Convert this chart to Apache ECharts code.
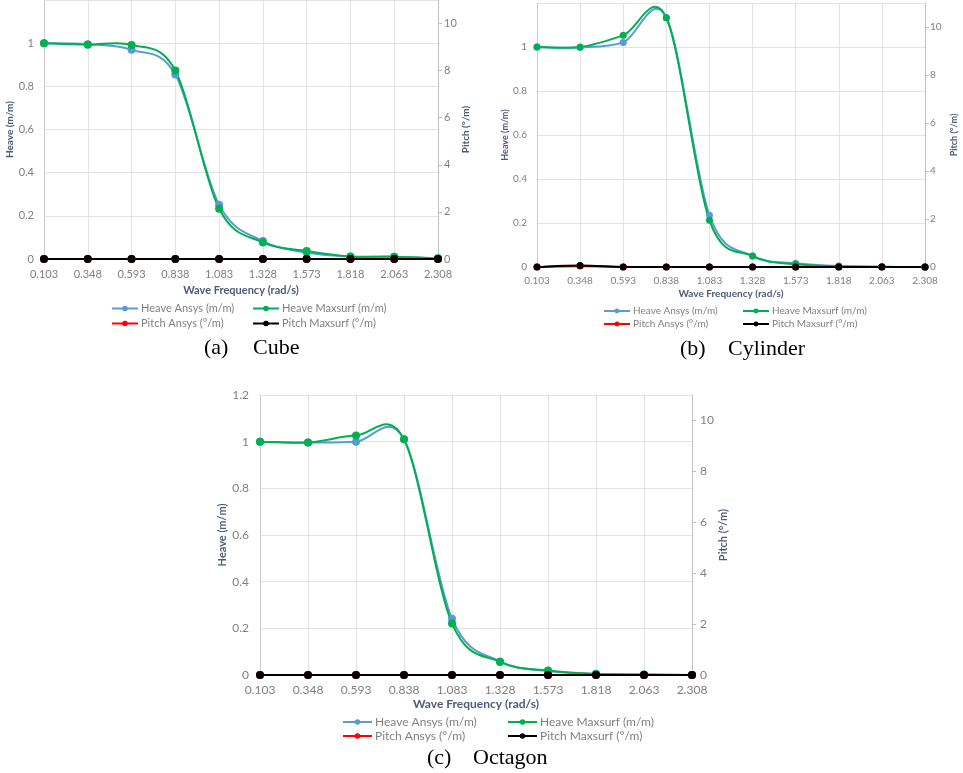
<!DOCTYPE html>
<html>
<head>
<meta charset="utf-8">
<script src="https://cdn.jsdelivr.net/npm/echarts@6/dist/echarts.min.js"></script>
<style>
  html, body { margin: 0; padding: 0; background: #fff; }
  #main { width: 963px; height: 773px; }
</style>
</head>
<body>
<div id="main"></div>
<script>
// wave frequency (rad/s), shared by all three panels
const frequencies = ['0.103', '0.348', '0.593', '0.838', '1.083', '1.328', '1.573', '1.818', '2.063', '2.308'];

// (a) Cube
const cubeHeaveAnsys = [1, 0.995, 0.969, 0.855, 0.251, 0.083, 0.030, 0.011, 0.010, 0.002];
const cubeHeaveMaxsurf = [1, 0.993, 0.992, 0.873, 0.233, 0.077, 0.037, 0.012, 0.011, 0.003];
const cubePitchAnsys = [0, 0, 0, 0, 0, 0, 0, 0, 0, 0];
const cubePitchMaxsurf = [0, 0, 0, 0, 0, 0, 0, 0, 0, 0];

// (b) Cylinder
const cylHeaveAnsys = [1, 0.998, 1.021, 1.133, 0.235, 0.050, 0.017, 0.004, 0.001, 0];
const cylHeaveMaxsurf = [1, 1.0, 1.053, 1.133, 0.212, 0.050, 0.012, 0.003, 0.001, 0];
const cylPitchAnsys = [0, 0.04, 0, 0, 0, 0, 0, 0, 0, 0];
const cylPitchMaxsurf = [0, 0.06, 0, 0, 0, 0, 0, 0, 0, 0];

// (c) Octagon
const octHeaveAnsys = [1, 0.996, 1.0, 1.01, 0.241, 0.058, 0.017, 0.005, 0.002, 0];
const octHeaveMaxsurf = [1, 0.996, 1.026, 1.01, 0.221, 0.056, 0.019, 0.004, 0.002, 0];
const octPitchAnsys = [0, 0, 0, 0, 0, 0, 0, 0, 0, 0];
const octPitchMaxsurf = [0, 0, 0, 0, 0, 0, 0, 0, 0, 0];

// axis ranges / ticks
const heaveMax = 1.2;
const heaveStep = 0.2;
const pitchMax = 11;
const pitchStep = 2;

const seriesNames = ['Heave Ansys (m/m)', 'Heave Maxsurf (m/m)', 'Pitch Ansys (°/m)', 'Pitch Maxsurf (°/m)'];
const seriesColors = ['#5b9bd5', '#00b050', '#ff0000', '#000000'];

const FONT = 'Lato';
const labelColor = '#7f7f7f';
const nameColor = '#4d5b78';

/**
 * 每个小图的位置和字号
 */
const panels = [{
  caption: ['(a)', 'Cube'],
  data: [cubeHeaveAnsys, cubeHeaveMaxsurf, cubePitchAnsys, cubePitchMaxsurf],
  grid: { left: 44, top: -2, width: 394, height: 261 },
  font: 11, symbol: 8, showTop: false,
  leftGap: 25, rightGap: 21, xGap: 26, xMargin: 10, leftMargin: 10, rightMargin: 6,
  legendX: [111, 252], legendY: [303, 318], iconW: 26,
  captionY: 349, captionX: [204, 253]
}, {
  caption: ['(b)', 'Cylinder'],
  data: [cylHeaveAnsys, cylHeaveMaxsurf, cylPitchAnsys, cylPitchMaxsurf],
  grid: { left: 537, top: 3, width: 388, height: 264 },
  font: 10, symbol: 7, showTop: false,
  leftGap: 25, rightGap: 25, xGap: 22, xMargin: 9, leftMargin: 10, rightMargin: 5,
  legendX: [603, 742], legendY: [306, 319], iconW: 26,
  captionY: 350, captionX: [680, 728]
}, {
  caption: ['(c)', 'Octagon'],
  data: [octHeaveAnsys, octHeaveMaxsurf, octPitchAnsys, octPitchMaxsurf],
  grid: { left: 260, top: 395, width: 432, height: 280 },
  font: 12, symbol: 8, showTop: true,
  leftGap: 30, rightGap: 23, xGap: 23, xMargin: 9, leftMargin: 11, rightMargin: 8,
  legendX: [342, 507], legendY: [716, 730], iconW: 29,
  captionY: 759, captionX: [427, 473]
}];

/**
 * Excel 风格的平滑曲线（Catmull-Rom），点位全部通过 api.coord 换算
 */
function splineRenderer(values, color) {
  return function (params, api) {
    if (params.dataIndex !== 0) {
      return null;
    }
    const pts = values.map(function (v, i) { return api.coord([i, v]); });
    const n = pts.length;
    let d = 'M' + pts[0][0] + ' ' + pts[0][1];
    for (let i = 0; i < n - 1; i++) {
      const p0 = pts[Math.max(i - 1, 0)];
      const p1 = pts[i];
      const p2 = pts[i + 1];
      const p3 = pts[Math.min(i + 2, n - 1)];
      const c1x = p1[0] + (p2[0] - p0[0]) / 6;
      const c1y = p1[1] + (p2[1] - p0[1]) / 6;
      const c2x = p2[0] - (p3[0] - p1[0]) / 6;
      const c2y = p2[1] - (p3[1] - p1[1]) / 6;
      d += ' C' + c1x + ' ' + c1y + ' ' + c2x + ' ' + c2y + ' ' + p2[0] + ' ' + p2[1];
    }
    return {
      type: 'path',
      shape: { pathData: d },
      style: { stroke: color, lineWidth: 2, fill: 'none' }
    };
  };
}

const option = {
  backgroundColor: '#fff',
  animation: false,
  textStyle: { fontFamily: FONT },
  grid: [],
  xAxis: [],
  yAxis: [],
  legend: [],
  series: [],
  graphic: []
};

panels.forEach(function (p, i) {
  option.grid.push(p.grid);

  option.xAxis.push({
    gridIndex: i,
    type: 'category',
    boundaryGap: false,
    data: frequencies,
    name: 'Wave Frequency (rad/s)',
    nameLocation: 'middle',
    nameGap: p.xGap,
    nameTextStyle: { color: nameColor, fontWeight: 'bold', fontSize: p.font, fontFamily: FONT },
    axisLine: { lineStyle: { color: '#d9d9d9' } },
    axisTick: { show: false },
    axisLabel: { color: labelColor, fontSize: p.font, margin: p.xMargin, fontFamily: FONT },
    splitLine: { show: true, lineStyle: { color: '#e3e3e3' } }
  });

  option.yAxis.push({
    gridIndex: i,
    type: 'value',
    min: 0,
    max: heaveMax,
    interval: heaveStep,
    name: 'Heave (m/m)',
    nameLocation: 'middle',
    nameGap: p.leftGap,
    nameTextStyle: { color: nameColor, fontWeight: 'bold', fontSize: p.font - 1, fontFamily: FONT },
    axisLine: { show: true, lineStyle: { color: '#c9cdd8' } },
    axisTick: { show: false },
    axisLabel: {
      color: labelColor, fontSize: p.font, margin: p.leftMargin, fontFamily: FONT,
      showMaxLabel: p.showTop,
      formatter: function (v) { return String(+v.toFixed(1)); }
    },
    splitLine: { show: true, lineStyle: { color: '#e3e3e3' } }
  });

  option.yAxis.push({
    gridIndex: i,
    type: 'value',
    position: 'right',
    min: 0,
    max: pitchMax,
    interval: pitchStep,
    name: 'Pitch (°/m)',
    nameLocation: 'middle',
    nameGap: p.rightGap,
    nameTextStyle: { color: nameColor, fontWeight: 'bold', fontSize: p.font - 1, fontFamily: FONT },
    axisLine: { show: true, lineStyle: { color: '#bfbfbf' } },
    axisTick: { show: true, length: 4, lineStyle: { color: '#bfbfbf' } },
    axisLabel: { color: labelColor, fontSize: p.font, margin: p.rightMargin, fontFamily: FONT, showMaxLabel: false },
    splitLine: { show: false }
  });

  seriesNames.forEach(function (name, k) {
    const yIdx = i * 2 + (k < 2 ? 0 : 1);
    // markers (line itself hidden, the curve is drawn by the custom series)
    option.series.push({
      name: name,
      type: 'line',
      xAxisIndex: i,
      yAxisIndex: yIdx,
      symbol: 'circle',
      symbolSize: p.symbol,
      color: seriesColors[k],
      lineStyle: { width: 2, color: seriesColors[k], opacity: 0 },
      z: 10 + k,
      data: p.data[k]
    });
    option.series.push({
      name: name,
      type: 'custom',
      xAxisIndex: i,
      yAxisIndex: yIdx,
      renderItem: splineRenderer(p.data[k], seriesColors[k]),
      encode: { x: 0, y: 1 },
      z: 2 + k,
      silent: true,
      data: p.data[k].map(function (v, j) { return [j, v]; })
    });

    // one legend per entry, laid out 2 x 2 like the original
    option.legend.push({
      data: [name],
      left: p.legendX[k % 2],
      top: p.legendY[k < 2 ? 0 : 1],
      padding: 0,
      itemWidth: p.iconW,
      itemHeight: p.symbol - 1,
      itemGap: 4,
      lineStyle: { color: seriesColors[k], width: 2, opacity: 1 },
      itemStyle: { color: seriesColors[k] },
      textStyle: { color: labelColor, fontSize: p.font, fontFamily: FONT, padding: [0, 0, 0, -2] }
    });
  });

  option.graphic.push({
    type: 'text',
    left: p.captionX[0],
    top: p.captionY - 12,
    style: { text: p.caption[0], font: '22px "Liberation Serif"', fill: '#000' }
  }, {
    type: 'text',
    left: p.captionX[1],
    top: p.captionY - 12,
    style: { text: p.caption[1], font: '22px "Liberation Serif"', fill: '#000' }
  });
});

const chart = echarts.init(document.getElementById('main'), null, { renderer: 'canvas' });
chart.setOption(option);
</script>
</body>
</html>
